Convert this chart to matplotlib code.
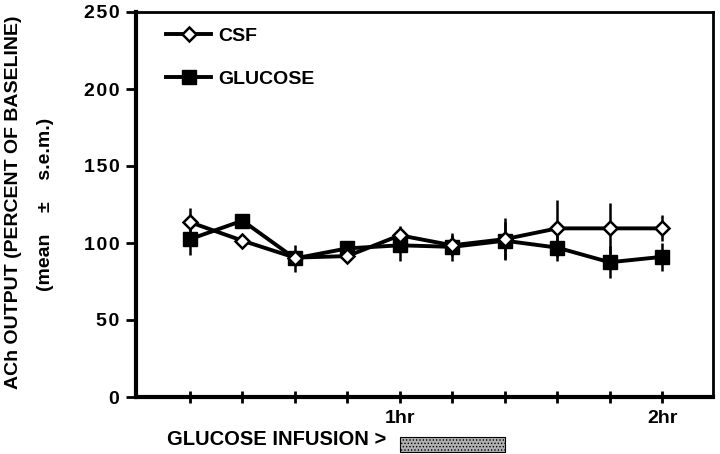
import matplotlib
matplotlib.use("Agg")
import matplotlib.pyplot as plt
import matplotlib.transforms as mtransforms
from matplotlib.patches import Rectangle
from matplotlib.lines import Line2D

plt.rcParams['font.family'] = ['Liberation Sans', 'DejaVu Sans']
plt.rcParams['font.weight'] = 'bold'
plt.rcParams['hatch.linewidth'] = 0.6

# data
x_points = [1, 2, 3, 4, 5, 6, 7, 8, 9, 10]
csf_mean = [113.5, 101.5, 90.5, 91.5, 105, 98.5, 102.5, 109.5, 109.5, 109.5]
csf_sem = [9, 2, 3, 4, 6, 7, 13.5, 18.5, 16.5, 8.5]
glu_mean = [102.5, 114.5, 90, 96.5, 98.5, 97.5, 101.5, 97, 87.5, 91]
glu_sem = [10, 2, 9, 5, 10, 9, 12, 9, 10.5, 9]
xtick_pos = [5, 10]
xtick_labels = ['1hr', '2hr']
yticks = [0, 50, 100, 150, 200, 250]
infusion_start, infusion_end = 5, 7

fig = plt.figure(figsize=(7.2, 4.54), dpi=100)
ax = fig.add_axes([136 / 720, 1 - 397 / 454, 577 / 720, 385 / 454])

lw = 2.8
glu_style = dict(color='black', lw=lw, marker='s', ms=10, mfc='black', mec='black')
csf_style = dict(color='black', lw=lw, marker='D', ms=7.5, mfc='white', mec='black', mew=1.8)
ax.errorbar(x_points, glu_mean, yerr=glu_sem, elinewidth=1.8, capsize=0, zorder=3, **glu_style)
ax.errorbar(x_points, csf_mean, yerr=csf_sem, elinewidth=1.8, capsize=0, zorder=4, **csf_style)

ax.set_xlim(-0.03, 10.97)
ax.set_ylim(0, 250)
ax.set_yticks(yticks)
ax.set_yticklabels(['\u200a'.join(str(v)) for v in yticks], fontsize=14, fontweight='bold')
ax.set_xticks(x_points, minor=True)
ax.set_xticks(xtick_pos)
ax.set_xticklabels(xtick_labels, fontsize=14, fontweight='bold')
ax.tick_params(axis='x', which='both', direction='inout', length=9, width=2, pad=5)
ax.tick_params(axis='y', direction='out', length=7, width=2, pad=5)

for side, w in [('left', 3), ('bottom', 3), ('right', 2), ('top', 2)]:
    ax.spines[side].set_linewidth(w)

fig.text(14 / 720, 0.555, 'ACh OUTPUT (PERCENT OF BASELINE)', rotation=90, fontsize=14,
         fontweight='bold', ha='center', va='center')
fig.text(46 / 720, 0.55, '(mean    \u00b1    s.e.m.)', rotation=90, fontsize=14, fontweight='bold',
         ha='center', va='center')

handles = [Line2D([], [], **csf_style), Line2D([], [], **glu_style)]
leg = ax.legend(handles, ['CSF', 'GLUCOSE'], loc='upper left', bbox_to_anchor=(0.022, 1.005),
                frameon=False, handlelength=2.3, labelspacing=1.3, handletextpad=0.4,
                prop={'weight': 'bold', 'size': 14})

fig.text(167 / 720, 0.012, 'GLUCOSE INFUSION >', fontsize=14.5, fontweight='bold', ha='left', va='bottom')
trans = mtransforms.blended_transform_factory(ax.transData, fig.transFigure)
rect = Rectangle((infusion_start, 0.004), infusion_end - infusion_start, 0.033, transform=trans,
                 facecolor='#b0b0b0', edgecolor='black', hatch='.....', lw=0.8, clip_on=False)
fig.patches.append(rect)

fig.savefig('out.png', dpi=100)
